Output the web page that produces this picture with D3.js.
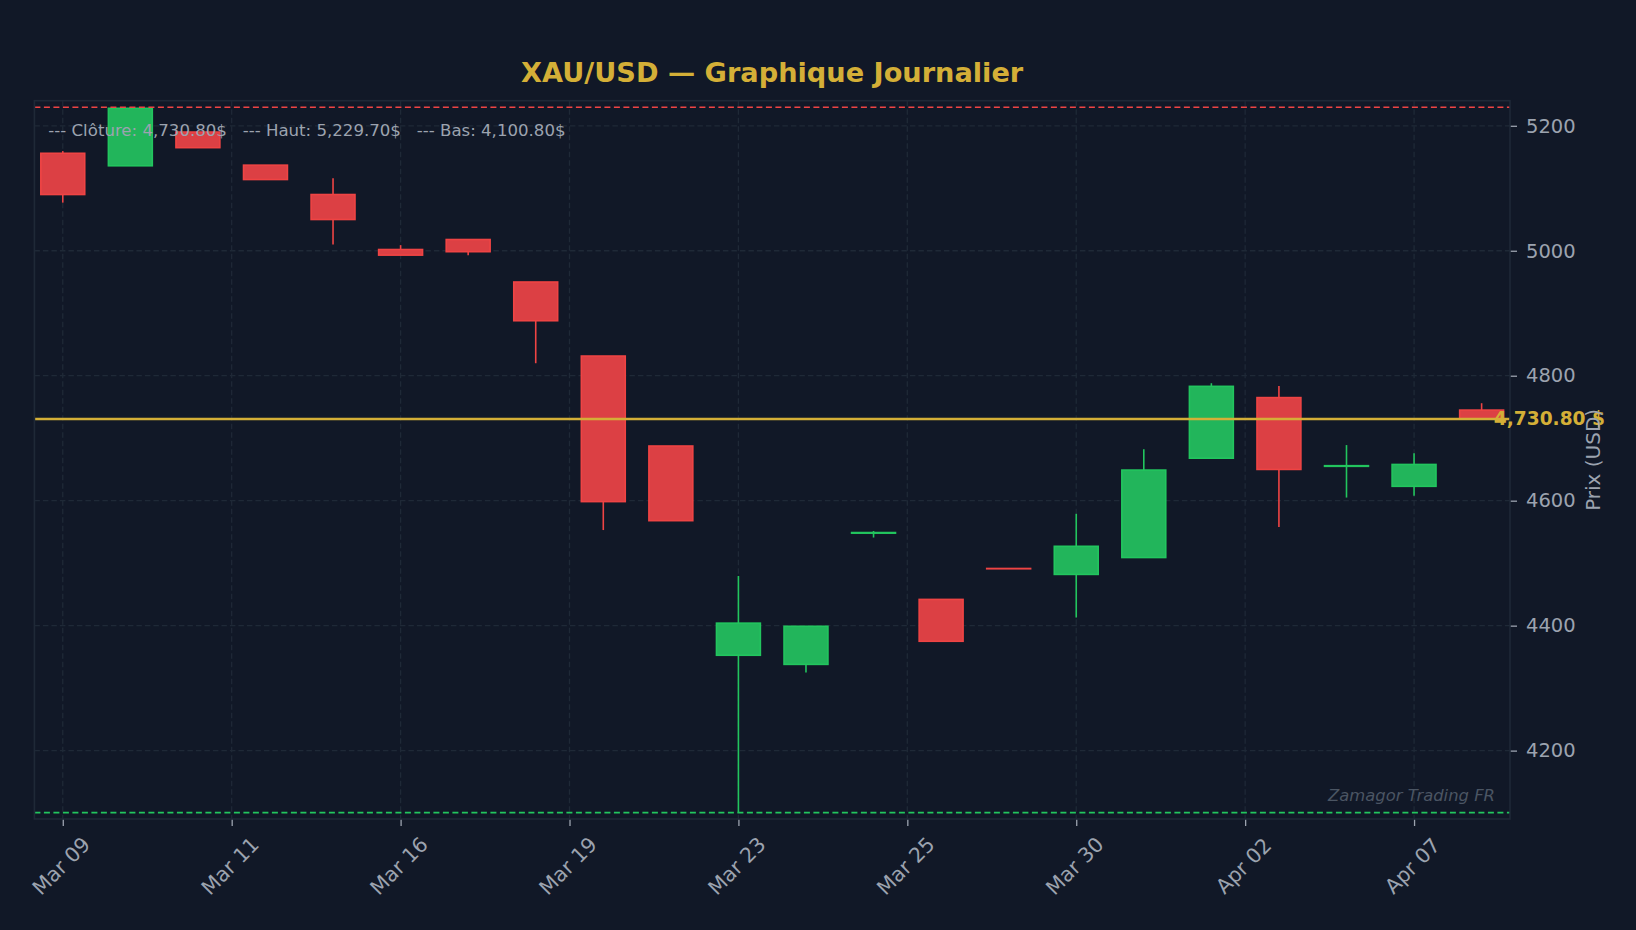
<!DOCTYPE html>
<html>
<head>
<meta charset="utf-8">
<script src="https://cdn.jsdelivr.net/npm/d3@7"></script>
<style>
  html, body { margin: 0; padding: 0; background: #111827; }
  svg { display: block; font-family: "DejaVu Sans", sans-serif; }
</style>
</head>
<body>
<div id="chart"></div>
<script>
////////////////////////////////////////////////////////////
//////////////////////// Data //////////////////////////////
////////////////////////////////////////////////////////////

var dates = ["Mar 09","Mar 10","Mar 11","Mar 12","Mar 13","Mar 16","Mar 17","Mar 18","Mar 19","Mar 20",
	"Mar 23","Mar 24","Mar 25","Mar 26","Mar 27","Mar 30","Mar 31","Apr 01","Apr 02","Apr 06","Apr 07","Apr 08"];
var opens  = [5156, 5136, 5190, 5137, 5090, 5002, 5018, 4950, 4831.5, 4687.5,
	4352.6, 4338, 4548, 4442, 4491.5, 4482, 4509, 4668, 4765, 4655, 4623, 4745];
var highs  = [5159.5, 5229.7, 5190, 5137, 5116, 5009, 5018, 4950, 4831.5, 4687.5,
	4479.5, 4399, 4551.5, 4442, 4491.5, 4579, 4682.5, 4788, 4783.5, 4689, 4676, 4756];
var lows   = [5077, 5136, 5165, 5114, 5010, 4993, 4993, 4820, 4553, 4568,
	4100.8, 4325, 4541, 4375, 4491, 4413, 4509, 4668, 4558, 4605, 4608, 4730.8];
var closes = [5090, 5228, 5165, 5114, 5050, 4993, 4998.5, 4888, 4598.5, 4568,
	4404, 4399, 4549, 4375, 4491, 4527, 4649, 4783, 4650, 4656, 4658, 4730.8];

var xTickPos = [0, 2.5, 5, 7.5, 10, 12.5, 15, 17.5, 20];
var xTickLabels = ["Mar 09","Mar 11","Mar 16","Mar 19","Mar 23","Mar 25","Mar 30","Apr 02","Apr 07"];
var yTicks = [4200, 4400, 4600, 4800, 5000, 5200];

var candles = dates.map(function(d,i) {
	return {i: i, date: d, o: opens[i], h: highs[i], l: lows[i], c: closes[i]};
});

////////////////////////////////////////////////////////////
//////////////////////// Setup /////////////////////////////
////////////////////////////////////////////////////////////

var W = 1636, H = 930;
var margin = {top: 100.7, right: 126, bottom: 111, left: 34.4},
	width = W - margin.left - margin.right,
	height = H - margin.top - margin.bottom;

var bg = "#111827",
	gridCol = "#1f2937",
	textCol = "#9ca3af",
	gold = "#d4af37",
	upFill = "#22b55b", upEdge = "#22c55e",
	downFill = "#dc4044", downEdge = "#ef4444";

var svg = d3.select("#chart").append("svg")
	.attr("width", W)
	.attr("height", H)
	.style("background", bg);

var g = svg.append("g")
	.attr("transform", "translate(" + margin.left + "," + margin.top + ")");

var lastClose = closes[closes.length - 1],
	maxHigh = d3.max(highs),
	minLow = d3.min(lows);

var x = d3.scaleLinear()
	.domain([-0.42, dates.length - 1 + 0.42])
	.range([0, width]);

var y = d3.scaleLinear()
	.domain([minLow * 0.9975, maxHigh * 1.002])
	.range([height, 0]);

var fmt = d3.format(",.2f");

////////////////////////////////////////////////////////////
//////////////////////// Grid //////////////////////////////
////////////////////////////////////////////////////////////

g.selectAll(".grid-y")
	.data(yTicks)
	.enter().append("line")
	.attr("x1", 0).attr("x2", width)
	.attr("y1", function(d) { return y(d); })
	.attr("y2", function(d) { return y(d); })
	.style("stroke", gridCol)
	.style("stroke-width", 1.3)
	.style("stroke-dasharray", "5.5,3");

g.selectAll(".grid-x")
	.data(xTickPos)
	.enter().append("line")
	.attr("y1", 0).attr("y2", height)
	.attr("x1", function(d) { return x(d); })
	.attr("x2", function(d) { return x(d); })
	.style("stroke", gridCol)
	.style("stroke-width", 1.3)
	.style("stroke-dasharray", "5.5,3");

////////////////////////////////////////////////////////////
////////////////////// Candles /////////////////////////////
////////////////////////////////////////////////////////////

var bodyW = x(0.65) - x(0);

var candle = g.selectAll(".candle")
	.data(candles)
	.enter().append("g")
	.attr("class", "candle");

candle.append("line")
	.attr("x1", function(d) { return x(d.i); })
	.attr("x2", function(d) { return x(d.i); })
	.attr("y1", function(d) { return y(d.h); })
	.attr("y2", function(d) { return y(d.l); })
	.style("stroke", function(d) { return d.c >= d.o ? upEdge : downEdge; })
	.style("stroke-width", 1.6);

candle.append("rect")
	.attr("x", function(d) { return x(d.i) - bodyW/2; })
	.attr("width", bodyW)
	.attr("y", function(d) { return y(Math.max(d.o, d.c)); })
	.attr("height", function(d) { return Math.max(Math.abs(y(d.o) - y(d.c)), 0.3); })
	.style("fill", function(d) { return d.c >= d.o ? upFill : downFill; })
	.style("stroke", function(d) { return d.c >= d.o ? upEdge : downEdge; })
	.style("stroke-width", 1.6);

////////////////////////////////////////////////////////////
/////////////////// Reference lines ////////////////////////
////////////////////////////////////////////////////////////

g.append("line")
	.attr("x1", 0).attr("x2", width)
	.attr("y1", y(maxHigh)).attr("y2", y(maxHigh))
	.style("stroke", downEdge)
	.style("stroke-width", 1.6)
	.style("stroke-dasharray", "6,3.5");

g.append("line")
	.attr("x1", 0).attr("x2", width)
	.attr("y1", y(minLow)).attr("y2", y(minLow))
	.style("stroke", upEdge)
	.style("stroke-width", 1.6)
	.style("stroke-dasharray", "6,3.5");

g.append("line")
	.attr("x1", 0).attr("x2", width)
	.attr("y1", y(lastClose)).attr("y2", y(lastClose))
	.style("stroke", gold)
	.style("stroke-width", 2.6);

////////////////////////////////////////////////////////////
//////////////////////// Axes //////////////////////////////
////////////////////////////////////////////////////////////

var yAxis = g.append("g")
	.attr("transform", "translate(" + width + ",0)")
	.call(d3.axisRight(y).tickValues(yTicks).tickSize(7).tickPadding(9).tickFormat(d3.format("d")));

var xAxis = g.append("g")
	.attr("transform", "translate(0," + height + ")")
	.call(d3.axisBottom(x).tickValues(xTickPos).tickSize(7)
		.tickFormat(function(d,i) { return xTickLabels[i]; }));

[yAxis, xAxis].forEach(function(ax) {
	ax.select(".domain").remove();
	ax.selectAll(".tick line").style("stroke", textCol).style("stroke-width", 1.3);
	ax.selectAll(".tick text")
		.style("fill", textCol)
		.style("font-size", "19.5px")
		.style("font-family", "DejaVu Sans");
});

xAxis.selectAll(".tick text")
	.attr("y", 0)
	.attr("dy", null)
	.attr("text-anchor", "middle")
	.attr("dominant-baseline", "central")
	.style("font-size", "20.5px")
	.attr("transform", "translate(-2,47) rotate(-45)");

//Frame
g.append("rect")
	.attr("width", width)
	.attr("height", height)
	.style("fill", "none")
	.style("stroke", gridCol)
	.style("stroke-width", 1.6);

////////////////////////////////////////////////////////////
//////////////////////// Texts /////////////////////////////
////////////////////////////////////////////////////////////

//Close price label
g.append("text")
	.attr("x", x(dates.length - 1 + 0.18))
	.attr("y", y(lastClose))
	.attr("dominant-baseline", "central")
	.style("fill", gold)
	.style("font-size", "18.6px")
	.style("font-weight", "bold")
	.text(fmt(lastClose) + " $");

//Legend line
g.append("text")
	.attr("x", 48.3 - margin.left)
	.attr("y", 136 - margin.top)
	.attr("xml:space", "preserve")
	.style("white-space", "pre")
	.style("fill", textCol)
	.style("font-size", "16.6px")
	.text("--- Clôture: " + fmt(lastClose) + "$   --- Haut: " + fmt(maxHigh) + "$   --- Bas: " + fmt(minLow) + "$");

//Watermark
g.append("text")
	.attr("x", width - 15)
	.attr("y", 801 - margin.top)
	.attr("text-anchor", "end")
	.style("fill", "#4b5563")
	.style("font-size", "16.4px")
	.style("font-style", "italic")
	.text("Zamagor Trading FR");

//Axis title
svg.append("text")
	.attr("transform", "translate(1593," + (margin.top + height/2) + ") rotate(-90)")
	.attr("text-anchor", "middle")
	.attr("dominant-baseline", "central")
	.style("fill", textCol)
	.style("font-size", "20px")
	.text("Prix (USD)");

//Title
svg.append("text")
	.attr("x", margin.left + width/2)
	.attr("y", 81.5)
	.attr("text-anchor", "middle")
	.style("fill", gold)
	.style("font-size", "27.2px")
	.style("font-weight", "bold")
	.text("XAU/USD — Graphique Journalier");
</script>
</body>
</html>
